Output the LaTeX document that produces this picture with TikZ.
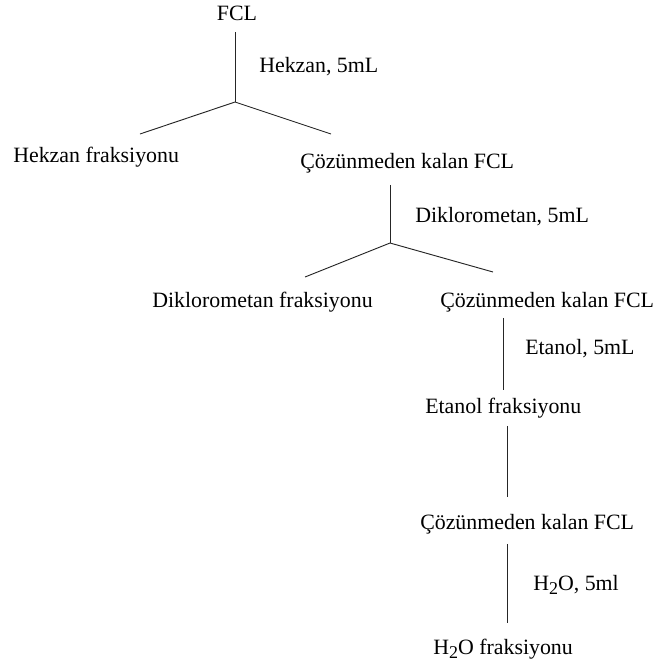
\documentclass[tikz,border=0pt]{standalone}
\usepackage{fontspec}
\setmainfont{Liberation Serif}
\usetikzlibrary{calc}
\newcommand{\lowsub}[1]{\raisebox{-3.5pt}{\fontsize{13.5}{13.5}\selectfont #1}}
\tikzset{
every node/.style={
inner sep=0pt,
text height=11pt,
text depth=3.5pt,
font=\fontsize{16.4}{19}\selectfont
},
link/.style={line width=0.7pt, draw=black!85},
}

\begin{document}
\begin{tikzpicture}[x=0.75pt, y=-0.75pt]
\useasboundingbox (0,0) rectangle (660,668);
% Nodes
\node (fcl) at (237,15) {FCL};
\node (hekzan) [anchor=west] at (259,67) {Hekzan, 5mL};
\node (hekzanfr) [anchor=west] at (13,157) {Hekzan fraksiyonu};
\node (cozu1) [anchor=west] at (300,163) {Çözünmeden kalan FCL};
\node (diklor) [anchor=west] at (415,217) {Diklorometan, 5mL};
\node (diklorfr) [anchor=west] at (152,302) {Diklorometan fraksiyonu};
\node (cozu2) [anchor=west] at (440,302) {Çözünmeden kalan FCL};
\node (etanol) [anchor=west] at (525,349) {Etanol, 5mL};
\node (etanolfr) [anchor=west] at (425,408) {Etanol fraksiyonu};
\node (cozu3) [anchor=west] at (420,524) {Çözünmeden kalan FCL};
\node (suyu) [anchor=west] at (533,585) {H\lowsub{2}O, 5ml};
\node (suyufr) [anchor=west] at (433,649) {H\lowsub{2}O fraksiyonu};

% split points
\coordinate (s1) at (235,102);
\coordinate (l1) at (140,134);
\coordinate (r1) at (331,134);
\coordinate (s2) at (390,243);
\coordinate (l2) at (305,277);
\coordinate (r2) at (493,272);

% Connectors
\draw [link, shorten <=5.5pt] (s1 |- fcl.south) -- (s1);
\draw [link] (l1) -- (s1) -- (r1);
\draw [link, shorten <=9pt] (s2 |- cozu1.south) -- (s2);
\draw [link] (l2) -- (s2) -- (r2);
\draw [link, shorten <=4.5pt, shorten >=6pt] (etanolfr.north |- cozu2.south) -- (etanolfr.north);
\draw [link, shorten <=6pt, shorten >=13pt] ([xshift=3pt]etanolfr.south) -- ([xshift=3pt]etanolfr.south |- cozu3.north);
\draw [link, shorten <=7.5pt, shorten >=12pt] ([xshift=3pt]suyufr.north |- cozu3.south) -- ([xshift=3pt]suyufr.north);
\end{tikzpicture}
\end{document}
